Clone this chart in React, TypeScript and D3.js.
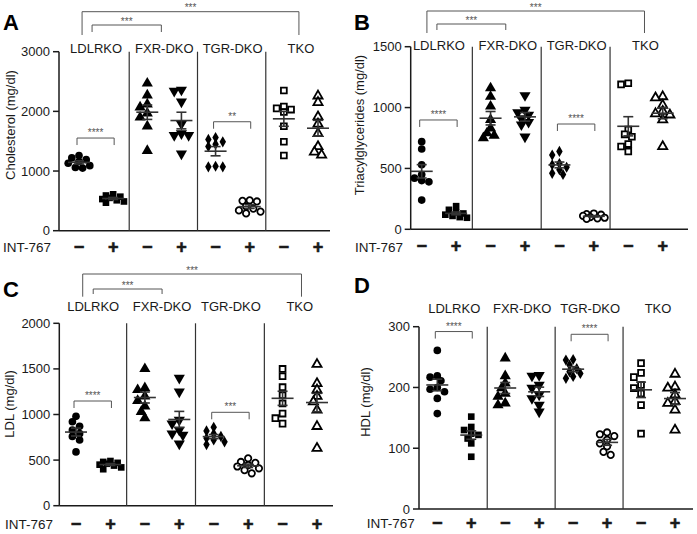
import React from "react";
import * as d3 from "d3";

const groups = ["LDLRKO", "FXR-DKO", "TGR-DKO", "TKO"];
const treatmentLabels = ["−", "+"];
const markerShapes = ["circle", "square", "triangle", "triangleDown", "diamond", "circle", "square", "triangle"];
const markerFilled = [true, true, true, true, true, false, false, false];

// values per column: LDLRKO-, LDLRKO+, FXR-, FXR+, TGR-, TGR+, TKO-, TKO+
const cholesterol = [
  [1260, 1220, 1190, 1160, 1130, 1090, 1060, 1050],
  [610, 590, 570, 550, 530, 510, 490, 470],
  [2470, 2270, 2120, 2070, 1970, 1900, 1750, 1340],
  [2360, 2340, 2160, 1790, 1630, 1600, 1600, 1290],
  [1560, 1530, 1490, 1450, 1410, 1080, 1070, 1070],
  [510, 490, 500, 410, 370, 340, 320, 290],
  [2350, 2080, 2050, 2030, 1990, 1750, 1490, 1260],
  [2260, 2150, 1910, 1790, 1630, 1410, 1320, 1270],
];
const triglycerides = [
  [720, 660, 530, 450, 420, 400, 390, 240],
  [190, 160, 140, 130, 120, 110, 100, 95],
  [1160, 1090, 1010, 900, 830, 790, 770, 750],
  [1100, 980, 960, 940, 910, 880, 860, 760],
  [640, 610, 540, 530, 510, 490, 460, 450],
  [130, 125, 120, 110, 100, 95, 90, 85],
  [1200, 1190, 820, 780, 760, 700, 680, 640],
  [1090, 1080, 1020, 970, 950, 940, 900, 680],
];
const ldl = [
  [980, 920, 870, 830, 790, 760, 720, 590],
  [490, 480, 470, 460, 450, 440, 420, 400],
  [1500, 1290, 1270, 1200, 1150, 1090, 1030, 960],
  [1400, 1250, 940, 900, 830, 790, 775, 680],
  [860, 820, 790, 760, 740, 720, 700, 670],
  [520, 480, 470, 445, 430, 410, 390, 355],
  [1500, 1420, 1300, 1210, 1120, 1010, 960, 900],
  [1550, 1340, 1270, 1200, 1140, 1050, 870, 630],
];
const hdl = [
  [261, 219, 217, 211, 200, 197, 193, 182, 157],
  [152, 135, 130, 124, 122, 116, 108, 86],
  [248, 219, 207, 199, 190, 185, 174, 171],
  [220, 219, 204, 199, 188, 182, 171, 160],
  [246, 245, 237, 231, 226, 223, 218, 215],
  [126, 123, 120, 114, 108, 103, 94, 89],
  [240, 224, 217, 204, 199, 190, 171, 124],
  [222, 201, 199, 188, 177, 174, 163, 130],
];

const cholTicks = [0, 1000, 2000, 3000];
const tgTicks = [0, 500, 1000, 1500];
const ldlTicks = [0, 500, 1000, 1500, 2000];
const hdlTicks = [0, 100, 200, 300];

// within-group significance: group index, bracket height (data units), label
const cholSig = [{ group: 0, value: 1553, label: "****" }, { group: 2, value: 1826, label: "**" }];
const tgSig = [{ group: 0, value: 898, label: "****" }, { group: 2, value: 865, label: "****" }];
const ldlSig = [{ group: 0, value: 1148, label: "****" }, { group: 2, value: 1024, label: "***" }];
const hdlSig = [{ group: 0, value: 292, label: "****" }, { group: 2, value: 287.5, label: "****" }];

// between-group brackets: from group, to group, label
const topBrackets = [{ from: 0, to: 3, label: "***" }, { from: 0, to: 1, label: "***" }];

const panels = [
  {
    letter: "A", title: "Cholesterol (mg/dl)", data: cholesterol, ticks: cholTicks, max: 3000, sig: cholSig, top: topBrackets,
    L: { axisX: 59, right: 330, yTop: 51.7, yBottom: 230.7, col0: 79, col7: 318, letterX: 3, letterY: 30, titleX: 10, titleY: 125, groupY: 48, intX: 3, intY: 247,
      big: { y: 11.7, drop: 35, from: -14, to: -2 }, small: { y: 25, drop: 32, from: -4, to: -3 } },
  },
  {
    letter: "B", title: "Triacylglycerides (mg/dl)", data: triglycerides, ticks: tgTicks, max: 1500, sig: tgSig, top: topBrackets,
    L: { axisX: 410.7, right: 688, yTop: 46.7, yBottom: 229.3, col0: 421.7, col7: 662.7, letterX: 354, letterY: 30, titleX: 359, titleY: 125, groupY: 45, intX: 355, intY: 246.7,
      big: { y: 11, drop: 33, from: -12, to: -1 }, small: { y: 24, drop: 30, from: -2, to: -2 } },
  },
  {
    letter: "C", title: "LDL (mg/dl)", data: ldl, ticks: ldlTicks, max: 2000, sig: ldlSig, top: topBrackets,
    L: { axisX: 59.3, right: 333, yTop: 323.3, yBottom: 505.7, col0: 76, col7: 317, letterX: 3, letterY: 297, titleX: 9, titleY: 404, groupY: 306.7, intX: 5, intY: 524.5,
      big: { y: 274, drop: 296.7, from: -10.5, to: 1.7 }, small: { y: 289, drop: 294, from: 0, to: 0 } },
  },
  {
    letter: "D", title: "HDL (mg/dl)", data: hdl, ticks: hdlTicks, max: 300, sig: hdlSig, top: [],
    L: { axisX: 419, right: 693, yTop: 326.7, yBottom: 509, col0: 437.3, col7: 675, letterX: 354, letterY: 293, titleX: 365, titleY: 402, groupY: 308.3, intX: 366.7, intY: 523.3,
      big: { y: 0, drop: 0, from: 0, to: 0 }, small: { y: 0, drop: 0, from: 0, to: 0 } },
  },
];

const FONT = "'Liberation Sans', Arial, Helvetica, sans-serif";
const INK = "#1a1a1a";
const GRAY = "#555";

// compact column scatter: points may overlap a little, spread capped
function swarm(values: number[], y: (v: number) => number, step: number, minDist: number, maxK: number): number[] {
  const order = values.map((v, i) => ({ i, py: y(v) })).sort((a, b) => a.py - b.py);
  const placed: { x: number; y: number }[] = [];
  const out: number[] = new Array(values.length).fill(0);
  for (const p of order) {
    let best = 0;
    let bestD = -1;
    for (let k = 0; k <= maxK * 2; k++) {
      const off = k === 0 ? 0 : (k % 2 === 1 ? -Math.ceil(k / 2) * step : Math.ceil(k / 2) * step);
      const dmin = placed.length ? Math.min(...placed.map((q) => Math.hypot(q.x - off, q.y - p.py))) : Infinity;
      if (dmin >= minDist) { best = off; bestD = Infinity; break; }
      if (dmin > bestD) { bestD = dmin; best = off; }
    }
    placed.push({ x: best, y: p.py });
    out[p.i] = best;
  }
  return out;
}

function symbolPath(shape: string, filled: boolean): string {
  const gen = d3.symbol();
  if (shape === "circle") return gen.type(d3.symbolCircle).size(filled ? 46 : 32)() as string;
  if (shape === "square") return gen.type(d3.symbolSquare).size(filled ? 44 : 34)() as string;
  if (shape === "triangle" || shape === "triangleDown") return gen.type(d3.symbolTriangle).size(filled ? 54 : 36)() as string;
  return gen.type(d3.symbolDiamond).size(36)() as string;
}

function Panel({ p }: { p: (typeof panels)[number] }) {
  const L = p.L;
  const y = d3.scaleLinear().domain([0, p.max]).range([L.yBottom, L.yTop]);
  const cols = d3.range(8);
  const x = d3.scalePoint<number>().domain(cols).range([L.col0, L.col7]);
  const groupCenter = (g: number) => ((x(2 * g) as number) + (x(2 * g + 1) as number)) / 2;
  const dividers = [1, 2, 3].map((g) => ((x(2 * g - 1) as number) + (x(2 * g) as number)) / 2 - 1);

  return (
    <g>
      <text x={L.letterX} y={L.letterY} fontFamily={FONT} fontWeight="bold" fontSize={22} fill="#000">{p.letter}</text>
      <text transform={`translate(${L.titleX},${L.titleY}) rotate(-90)`} textAnchor="middle" dominantBaseline="central" fontFamily={FONT} fontSize={13} fill={INK}>{p.title}</text>
      {/* axes */}
      <line x1={L.axisX} x2={L.axisX} y1={L.yTop} y2={L.yBottom} stroke={INK} strokeWidth={1.5} />
      <line x1={L.axisX} x2={L.right} y1={L.yBottom} y2={L.yBottom} stroke={INK} strokeWidth={1.5} />
      {p.ticks.map((t) => (
        <g key={t}>
          <line x1={L.axisX - 6} x2={L.axisX} y1={y(t)} y2={y(t)} stroke={INK} strokeWidth={1.5} />
          <text x={L.axisX - 9} y={y(t)} textAnchor="end" dominantBaseline="central" fontFamily={FONT} fontSize={13} fill={INK}>{t}</text>
        </g>
      ))}
      {dividers.map((dx, i) => (
        <line key={i} x1={dx} x2={dx} y1={L.yTop} y2={L.yBottom} stroke="#333" strokeWidth={1.2} />
      ))}
      {groups.map((g, i) => (
        <text key={g} x={groupCenter(i)} y={L.groupY} textAnchor="middle" dominantBaseline="central" fontFamily={FONT} fontSize={13} fill={INK}>{g}</text>
      ))}
      {/* x labels */}
      <text x={L.intX} y={L.intY + 4.8} fontFamily={FONT} fontSize={13.5} fill={INK}>INT-767</text>
      {cols.map((c) => (
        <text key={c} x={x(c)} y={L.intY + 5.6} textAnchor="middle" fontFamily={FONT} fontWeight="bold" fontSize={18}
          fill={INK} stroke={INK} strokeWidth={0.6}>{treatmentLabels[c % 2]}</text>
      ))}
      {/* top brackets */}
      {p.top.map((b, i) => {
        const cfg = i === 0 ? L.big : L.small;
        const x1 = groupCenter(b.from) + cfg.from;
        const x2 = groupCenter(b.to) + cfg.to;
        return (
          <g key={i}>
            <path d={`M${x1},${cfg.drop}V${cfg.y}H${x2}V${cfg.drop}`} fill="none" stroke={GRAY} strokeWidth={1} />
            <text x={(x1 + x2) / 2} y={cfg.y - 0.5} textAnchor="middle" fontFamily={FONT} fontSize={10} fill={GRAY}>{b.label}</text>
          </g>
        );
      })}
      {/* within-group brackets */}
      {p.sig.map((s, i) => {
        const x1 = (x(2 * s.group) as number) - 2;
        const x2 = (x(2 * s.group + 1) as number) + 1;
        const yy = y(s.value);
        return (
          <g key={i}>
            <path d={`M${x1},${yy + 7}V${yy}H${x2}V${yy + 7}`} fill="none" stroke={GRAY} strokeWidth={1} />
            <text x={(x1 + x2) / 2} y={yy - 2} textAnchor="middle" fontFamily={FONT} fontSize={10} fill={GRAY}>{s.label}</text>
          </g>
        );
      })}
      {/* points */}
      {p.data.map((vals, c) => {
        const offs = swarm(vals, y, 3.6, 6, 3);
        const shape = markerShapes[c];
        const filled = markerFilled[c];
        const path = symbolPath(shape, filled);
        const rot = shape === "triangleDown" ? " rotate(180)" : "";
        const cx = x(c) as number;
        const mean = d3.mean(vals) as number;
        const sem = (d3.deviation(vals) as number) / Math.sqrt(vals.length);
        return (
          <g key={c}>
            {vals.map((v, i) => (
              <path key={i} d={path} transform={`translate(${cx + offs[i]},${y(v)})${rot}`}
                fill={filled ? "#000" : "#fff"} stroke="#000" strokeWidth={filled ? 0 : 1.8} />
            ))}
            <line x1={cx - 11} x2={cx + 11} y1={y(mean)} y2={y(mean)} stroke="#333" strokeWidth={1.6} />
            <line x1={cx} x2={cx} y1={y(mean - sem)} y2={y(mean + sem)} stroke="#333" strokeWidth={1.6} />
            <line x1={cx - 5} x2={cx + 5} y1={y(mean + sem)} y2={y(mean + sem)} stroke="#333" strokeWidth={1.6} />
            <line x1={cx - 5} x2={cx + 5} y1={y(mean - sem)} y2={y(mean - sem)} stroke="#333" strokeWidth={1.6} />
          </g>
        );
      })}
    </g>
  );
}

export default function App() {
  return (
    <svg width={697} height={534} viewBox="0 0 697 534" style={{ position: "absolute", left: 0, top: 0, background: "#fff" }}>
      <rect width={697} height={534} fill="#fff" />
      {panels.map((p) => <Panel key={p.letter} p={p} />)}
    </svg>
  );
}
